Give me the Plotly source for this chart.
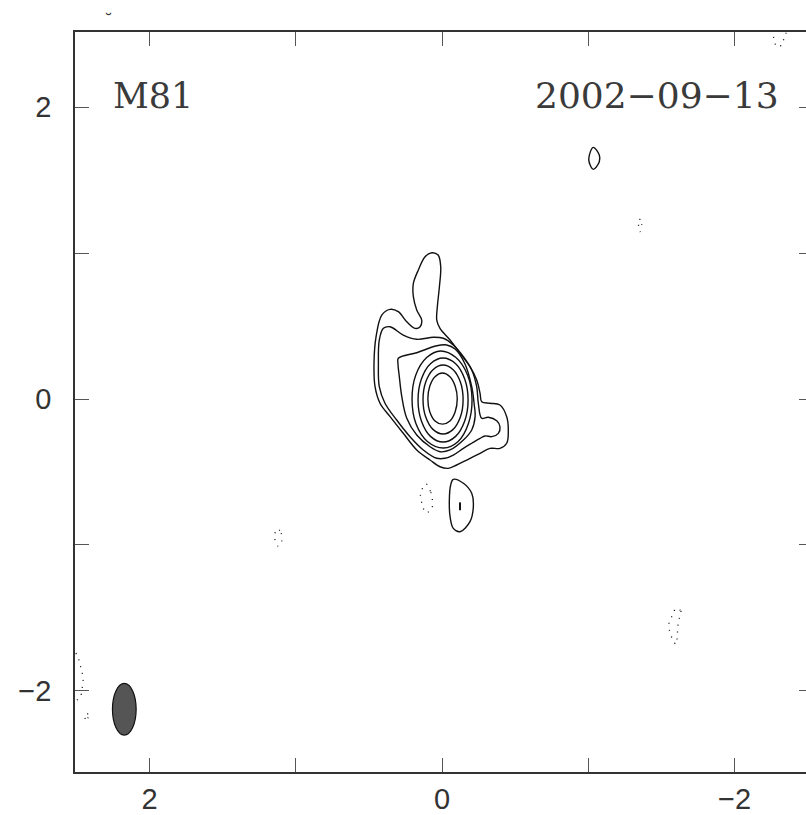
import plotly.graph_objects as go

# ---------------- data (offsets in arcsec) ----------------
tick_vals = [-2, -1, 0, 1, 2]
tick_text = ["\u22122", "", "0", "", "2"]

# positive contours (solid), outer -> inner
contour_1 = [(0.070, 1.002), (0.027, 0.986), (0.009, 0.906), (0.018, 0.769), (0.032, 0.632),
             (0.036, 0.541), (0.014, 0.484), (-0.055, 0.404), (-0.123, 0.313), (-0.191, 0.221),
             (-0.237, 0.130), (-0.260, 0.039), (-0.271, -0.018), (-0.328, -0.029), (-0.396, -0.041),
             (-0.442, -0.121), (-0.453, -0.212), (-0.442, -0.303), (-0.396, -0.338), (-0.328, -0.338),
             (-0.260, -0.372), (-0.169, -0.418), (-0.100, -0.452), (-0.043, -0.475), (0.014, -0.464),
             (0.082, -0.418), (0.173, -0.349), (0.265, -0.235), (0.355, -0.121), (0.424, -0.029),
             (0.458, 0.084), (0.465, 0.245), (0.451, 0.427), (0.412, 0.575), (0.355, 0.614),
             (0.299, 0.598), (0.241, 0.529), (0.185, 0.484), (0.150, 0.495), (0.139, 0.541),
             (0.173, 0.610), (0.196, 0.701), (0.196, 0.792), (0.162, 0.884), (0.116, 0.975),
             (0.070, 1.002)]
contour_2 = [(0.355, 0.495), (0.265, 0.438), (0.173, 0.409), (0.059, 0.423), (-0.009, 0.416),
             (-0.077, 0.370), (-0.146, 0.290), (-0.203, 0.199), (-0.237, 0.084), (-0.248, -0.029),
             (-0.271, -0.132), (-0.316, -0.125), (-0.374, -0.149), (-0.396, -0.190), (-0.385, -0.235),
             (-0.340, -0.258), (-0.294, -0.253), (-0.260, -0.269), (-0.203, -0.303), (-0.146, -0.338),
             (-0.077, -0.384), (-0.021, -0.406), (0.036, -0.406), (0.128, -0.349), (0.219, -0.258),
             (0.310, -0.144), (0.390, -0.029), (0.429, 0.084), (0.435, 0.245), (0.429, 0.404),
             (0.401, 0.484), (0.355, 0.495)]
contour_3 = [(0.299, 0.279), (0.173, 0.317), (0.036, 0.365), (-0.032, 0.370), (-0.089, 0.342),
             (-0.157, 0.240), (-0.203, 0.084), (-0.219, -0.029), (-0.226, -0.121), (-0.203, -0.212),
             (-0.146, -0.281), (-0.055, -0.349), (0.014, -0.361), (0.082, -0.327), (0.173, -0.247),
             (0.241, -0.132), (0.275, 0.016), (0.292, 0.153), (0.301, 0.240), (0.299, 0.279)]
contour_4 = [(0.010, 0.329), (-0.095, 0.284), (-0.175, 0.163), (-0.205, -0.004), (-0.180, -0.170),
             (-0.110, -0.291), (-0.010, -0.336), (0.100, -0.291), (0.178, -0.170), (0.205, -0.004),
             (0.180, 0.163), (0.105, 0.284), (0.010, 0.329)]
contour_5 = [(-0.007, 0.281), (-0.093, 0.242), (-0.155, 0.137), (-0.178, -0.007), (-0.155, -0.151),
             (-0.093, -0.256), (-0.007, -0.295), (0.079, -0.256), (0.141, -0.151), (0.164, -0.007),
             (0.141, 0.137), (0.079, 0.242), (-0.007, 0.281)]
contour_6 = [(-0.007, 0.233), (-0.076, 0.201), (-0.126, 0.115), (-0.144, -0.004), (-0.126, -0.122),
             (-0.076, -0.208), (-0.007, -0.240), (0.062, -0.208), (0.112, -0.122), (0.130, -0.004),
             (0.112, 0.115), (0.062, 0.201), (-0.007, 0.233)]
contour_7 = [(-0.003, 0.178), (-0.054, 0.153), (-0.090, 0.088), (-0.104, 0.001), (-0.090, -0.087),
             (-0.054, -0.150), (-0.003, -0.172), (0.048, -0.150), (0.084, -0.087), (0.097, 0.001),
             (0.084, 0.088), (0.048, 0.153), (-0.003, 0.178)]
blob_south = [(-0.077, -0.550), (-0.146, -0.577), (-0.203, -0.646), (-0.214, -0.738), (-0.191, -0.840),
              (-0.123, -0.909), (-0.077, -0.886), (-0.055, -0.806), (-0.050, -0.692), (-0.059, -0.589),
              (-0.077, -0.550)]
blob_south_core = [(-0.123, -0.708), (-0.125, -0.735), (-0.123, -0.762)]
blob_north = [(-1.034, 1.724), (-1.075, 1.671), (-1.075, 1.625), (-1.034, 1.573), (-1.005, 1.625),
              (-1.007, 1.671), (-1.034, 1.724)]

# negative contours (dotted)
neg_1 = [(0.109, -0.582), (0.077, -0.638), (0.066, -0.692), (0.070, -0.749), (0.109, -0.779),
         (0.139, -0.710), (0.146, -0.646), (0.109, -0.582)]
neg_2 = [(1.123, -0.890), (1.100, -0.920), (1.098, -0.982), (1.121, -1.007), (1.146, -0.938),
         (1.123, -0.890)]
neg_3 = [(-1.349, 1.233), (-1.365, 1.197), (-1.353, 1.146), (-1.344, 1.173), (-1.349, 1.233)]
neg_4 = [(-1.599, -1.434), (-1.632, -1.452), (-1.620, -1.509), (-1.611, -1.566), (-1.608, -1.623),
         (-1.599, -1.680), (-1.581, -1.655), (-1.558, -1.598), (-1.552, -1.532), (-1.577, -1.479),
         (-1.599, -1.434)]
neg_5 = [(-2.262, 2.53), (-2.268, 2.47), (-2.285, 2.42), (-2.310, 2.415), (-2.330, 2.45), (-2.360, 2.53)]
neg_6 = [(2.53, -1.70), (2.490, -1.765), (2.474, -1.822), (2.459, -1.879), (2.454, -1.936),
         (2.463, -1.993), (2.474, -2.043), (2.53, -2.08)]
neg_7 = [(2.426, -2.151), (2.420, -2.181), (2.433, -2.208), (2.440, -2.180), (2.426, -2.151)]

pos_contours = [contour_1, contour_2, contour_3, contour_4, contour_5, contour_6, contour_7,
                blob_south, blob_north]
neg_contours = [neg_1, neg_2, neg_3, neg_4, neg_5, neg_6, neg_7]

# restoring beam (centre, semi-axes in arcsec)
beam_center = (2.172, -2.125)
beam_semi = (0.081, 0.177)

source_name = "M81"
epoch = "2002\u221209\u221213"

x_range = [2.509, -2.488]
y_range = [-2.555, 2.514]

# ---------------- figure ----------------
fig = go.Figure()

for c in pos_contours:
    fig.add_trace(go.Scatter(x=[p[0] for p in c], y=[p[1] for p in c], mode="lines",
                             line=dict(color="#111111", width=1.4, shape="spline", smoothing=1.0),
                             hoverinfo="skip", showlegend=False))
fig.add_trace(go.Scatter(x=[p[0] for p in blob_south_core], y=[p[1] for p in blob_south_core],
                         mode="lines", line=dict(color="#111111", width=2),
                         hoverinfo="skip", showlegend=False))
for c in neg_contours:
    fig.add_trace(go.Scatter(x=[p[0] for p in c], y=[p[1] for p in c], mode="lines",
                             line=dict(color="#111111", width=1.3, dash="1px,6px", shape="spline"),
                             hoverinfo="skip", showlegend=False))

# dummy trace for the right-hand tick axis
fig.add_trace(go.Scatter(x=[None], y=[None], yaxis="y2", showlegend=False, hoverinfo="skip"))

fig.add_shape(type="circle", xref="x", yref="y",
              x0=beam_center[0] - beam_semi[0], x1=beam_center[0] + beam_semi[0],
              y0=beam_center[1] - beam_semi[1], y1=beam_center[1] + beam_semi[1],
              fillcolor="#555555", line=dict(color="#111111", width=1.2))

tickfont = dict(family="Liberation Sans", size=29, color="#333333")
fig.update_layout(
    width=806, height=815,
    margin=dict(l=75, r=0, t=32, b=43),
    paper_bgcolor="white", plot_bgcolor="white",
    xaxis=dict(range=x_range, tickvals=tick_vals, ticktext=tick_text, ticks="inside", ticklen=14,
               tickwidth=1.3, tickcolor="#555555", showline=True, linecolor="#333333", linewidth=1.6,
               mirror="ticks", showgrid=False, zeroline=False, tickfont=tickfont,
               ticklabelstandoff=0, automargin=False),
    yaxis=dict(range=y_range, tickvals=tick_vals, ticktext=tick_text, ticks="inside", ticklen=14,
               tickwidth=1.3, tickcolor="#555555", showline=True, linecolor="#333333", linewidth=1.6,
               mirror=False, showgrid=False, zeroline=False, tickfont=tickfont,
               ticklabelstandoff=16, automargin=False),
    yaxis2=dict(range=y_range, overlaying="y", side="right", tickvals=tick_vals, ticks="inside",
                ticklen=7, tickwidth=1.3, tickcolor="#555555", showticklabels=False,
                showline=False, showgrid=False, zeroline=False, automargin=False),
    annotations=[
        dict(text=source_name, xref="paper", yref="paper", x=0.049, y=0.914, xanchor="left",
             yanchor="middle", showarrow=False,
             font=dict(family="DejaVu Serif", size=35, color="#3a3a3a")),
        dict(text=epoch, xref="paper", yref="paper", x=0.966, y=0.914, xanchor="right",
             yanchor="middle", showarrow=False,
             font=dict(family="DejaVu Serif", size=36, color="#3a3a3a")),
        dict(text="\u02d8", xref="paper", yref="paper", x=0.046, y=1.016, xanchor="center",
             yanchor="middle", showarrow=False,
             font=dict(family="DejaVu Sans", size=18, color="#333333")),
    ],
)

fig.write_html("out.html", config={"displayModeBar": False},
               post_script="document.body.style.margin='0';document.body.style.overflow='hidden';")
